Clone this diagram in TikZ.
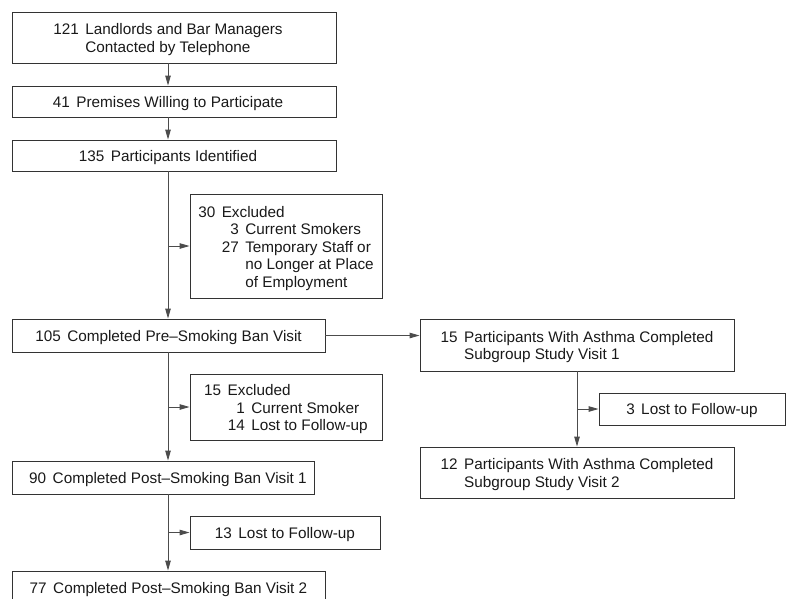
\documentclass[tikz,border=0pt]{standalone}
\usepackage{fontspec}
\setmainfont{Liberation Sans}
\usetikzlibrary{arrows.meta, positioning}

\newcommand{\numgap}{\hspace{6.5pt}}
\newcommand{\lowtab}[1]{\raisebox{-2.5pt}[\height][\depth]{#1}}

\begin{document}
\begin{tikzpicture}[x=1pt, y=-1pt,
    box/.style={draw=black!80, line width=0.9pt, rectangle, inner sep=0pt, align=center,
      font=\fontsize{15.3}{17.5}\selectfont, text=black!90},
    onebox/.style={box, text depth=0pt},
    link/.style={draw=black!70, line width=0.9pt, -{Triangle[length=10pt, width=5.5pt]}}]
    \useasboundingbox (0,0) rectangle (786,598);
    \clip (0,0) rectangle (786,598);

    % Hauptspalte
    \coordinate (stem) at (168,0);
    \node[box, minimum width=324pt, minimum height=51pt] (contact) at (174,37.5)
      {\lowtab{\begin{tabular}{@{}l@{\numgap}l@{}}121 & Landlords and Bar Managers\\ & Contacted by Telephone\end{tabular}}\kern12pt};
    \node[onebox, minimum width=324pt, minimum height=31pt] (willing) at (174,101.5)
      {41\numgap Premises Willing to Participate\kern12pt};
    \node[onebox, minimum width=324pt, minimum height=31pt] (ident) at (174,155.5)
      {135\numgap Participants Identified\kern12pt};
    \node[onebox, minimum width=313pt, minimum height=33pt] (pre) at (168.5,335.5)
      {105\numgap Completed Pre–Smoking Ban Visit};
    \node[onebox, minimum width=302pt, minimum height=33pt] (post1) at (163,477.5)
      {\kern10pt 90\numgap Completed Post–Smoking Ban Visit 1};
    \node[onebox, minimum width=313pt, minimum height=33pt] (post2) at (168.5,587.5)
      {77\numgap Completed Post–Smoking Ban Visit 2};

    % Ausschluesse
    \node[box, minimum width=192pt, minimum height=104pt] (excl1) at (286,246)
      {\lowtab{\begin{tabular}{@{}l@{\numgap}r@{\numgap}l@{}}
        30 & \multicolumn{2}{@{}l@{}}{Excluded}\\
        & 3 & Current Smokers\\
        & 27 & Temporary Staff or\\
        & & no Longer at Place\\
        & & of Employment
      \end{tabular}}};
    \node[box, minimum width=192pt, minimum height=66pt] (excl2) at (286,407)
      {\lowtab{\begin{tabular}{@{}l@{\numgap}r@{\numgap}l@{}}
        15 & \multicolumn{2}{@{}l@{}}{Excluded}\\
        & 1 & Current Smoker\\
        & 14 & Lost to Follow-up
      \end{tabular}}};
    \node[onebox, minimum width=190pt, minimum height=33pt] (lost13) at (285,532.5)
      {13\numgap Lost to Follow-up};

    % Asthma-Untergruppe
    \node[box, minimum width=314pt, minimum height=52pt] (asthma1) at (577,345)
      {\lowtab{\begin{tabular}{@{}l@{\numgap}l@{}}15 & Participants With Asthma Completed\\ & Subgroup Study Visit 1\end{tabular}}};
    \node[onebox, minimum width=186pt, minimum height=32pt] (lost3) at (692,409)
      {3\numgap Lost to Follow-up};
    \node[box, minimum width=314pt, minimum height=51pt] (asthma2) at (577,472.5)
      {\lowtab{\begin{tabular}{@{}l@{\numgap}l@{}}12 & Participants With Asthma Completed\\ & Subgroup Study Visit 2\end{tabular}}};

    % Pfeile
    \draw[link] (contact.south -| stem) -- (willing.north -| stem);
    \draw[link] (willing.south -| stem) -- (ident.north -| stem);
    \draw[link] (ident.south -| stem) -- (pre.north -| stem);
    \draw[link] (stem |- excl1.west) -- (excl1.west);
    \draw[link] (pre.south -| stem) -- (post1.north -| stem);
    \draw[link] (stem |- excl2.west) -- (excl2.west);
    \draw[link] (post1.south -| stem) -- (post2.north -| stem);
    \draw[link] (stem |- lost13.west) -- (lost13.west);
    \draw[link] (pre.east) -- (asthma1.west |- pre.east);
    \draw[link] (asthma1.south) -- (asthma2.north);
    \draw[link] (asthma1.south |- lost3.west) -- (lost3.west);
\end{tikzpicture}
\end{document}
